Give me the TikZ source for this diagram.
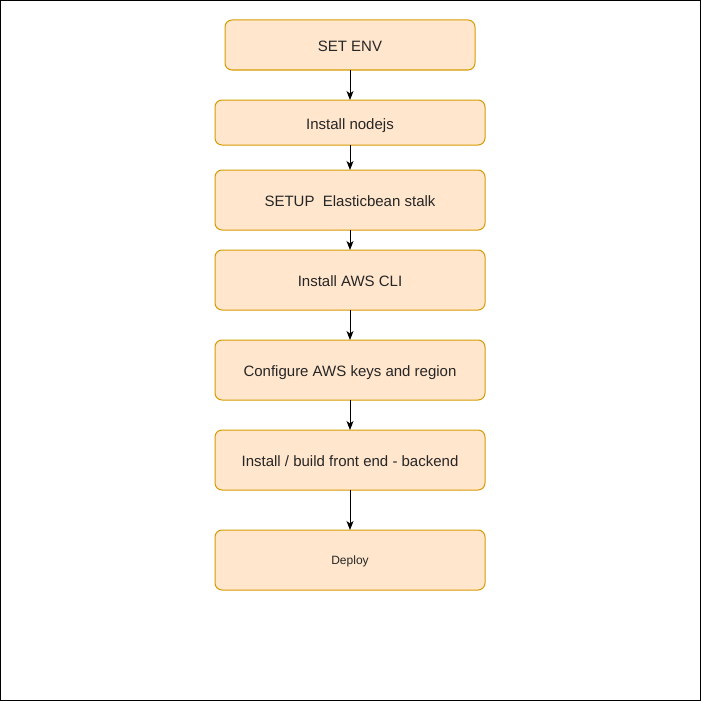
\documentclass[tikz,border=0pt]{standalone}
\usepackage{fontspec}
\setmainfont{Liberation Sans}
\usetikzlibrary{positioning,arrows.meta}
\definecolor{stepfill}{HTML}{FFE6CC}
\definecolor{stepline}{HTML}{D79B00}
\begin{document}
\begin{tikzpicture}[x=1pt, y=-1pt,
          every node/.style = {shape=rectangle, rounded corners=7pt, draw=stepline, fill=stepfill, line width=1pt, minimum width=270pt, minimum height=60pt, inner sep=0pt, outer sep=0pt, text height=13.4pt, text depth=0pt, align=center, text=black!85, font=\fontsize{15pt}{18pt}\selectfont},
          link/.style = {-{Stealth[length=9pt, width=7pt, inset=2.5pt]}, line width=1pt}]
          \useasboundingbox (0,0) rectangle (701,701);
          \draw[line width=1pt] (0.5,0.5) rectangle (700.5,700.5);
          \node (env) at (350,45) [minimum width=250pt, minimum height=50pt] {SET ENV};
          \node (nodejs) [below=30pt of env, minimum height=45pt] {Install nodejs};
          \node (eb) [below=25pt of nodejs] {SETUP~~Elasticbean stalk};
          \node (cli) [below=20pt of eb] {Install AWS CLI};
          \node (keys) [below=30pt of cli] {Configure AWS keys and region};
          \node (build) [below=30pt of keys] {Install / build front end - backend};
          \node (deploy) [below=40pt of build, text height=8.6pt, font=\fontsize{12pt}{14pt}\selectfont] {Deploy};
          \draw[link] (env) -- (nodejs);
          \draw[link] (nodejs) -- (eb);
          \draw[link] (eb) -- (cli);
          \draw[link] (cli) -- (keys);
          \draw[link] (keys) -- (build);
          \draw[link] (build) -- (deploy);
\end{tikzpicture}
\end{document}
